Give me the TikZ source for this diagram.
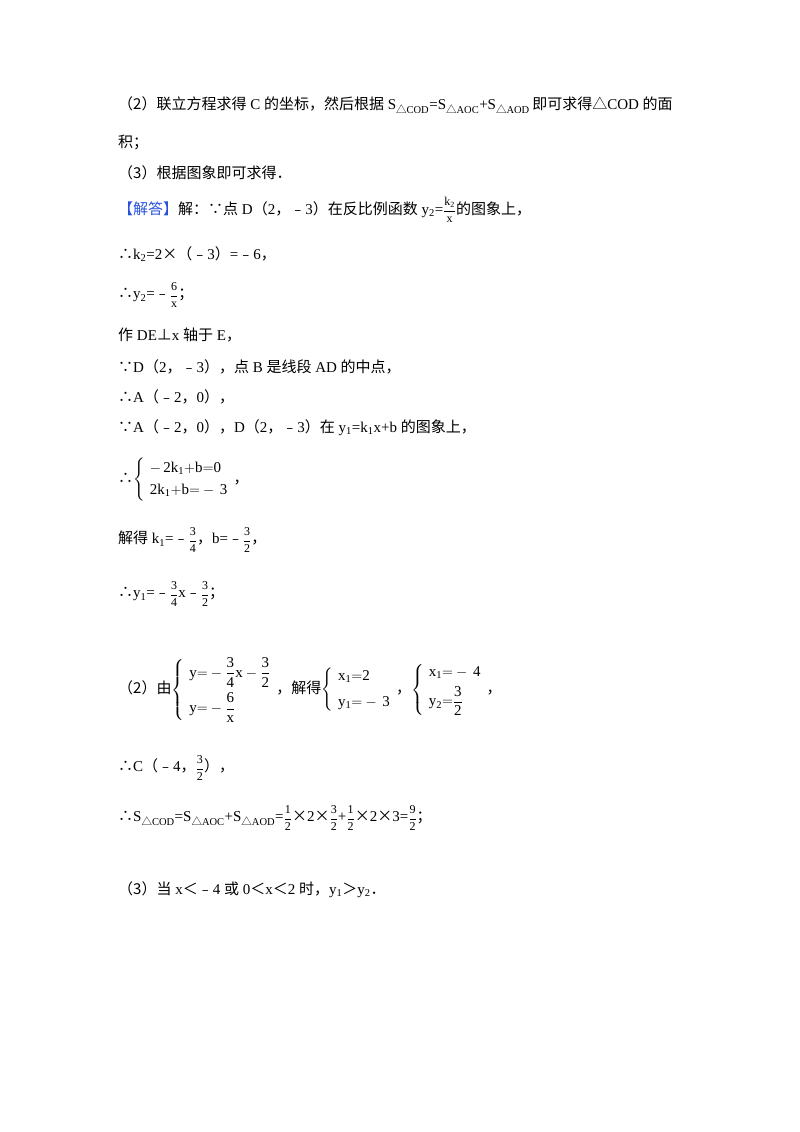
\documentclass[tikz,border=0pt]{standalone}
\usepackage{fontspec}
\usepackage{amsmath}
\setmainfont{Liberation Serif}
\newfontfamily\cjk{Noto Sans CJK SC}
\newcommand{\zh}[1]{{\cjk #1}}
\newcommand{\fr}[2]{{\fontsize{12}{14}\selectfont$\dfrac{\mathrm{#1}}{\mathrm{#2}}$}}
\definecolor{ansblue}{RGB}{40,80,220}
\begin{document}
\begin{tikzpicture}[x=1pt,y=-1pt,line/.style={anchor=west,inner sep=0pt,font=\fontsize{15}{18}\selectfont}]
\useasboundingbox (0,0) rectangle (800,1132);
\node[line] (l1) at (118,105) {\zh{（2）联立方程求得} C \zh{的坐标，然后根据} S\textsubscript{\zh{△}COD}=S\textsubscript{\zh{△}AOC}+S\textsubscript{\zh{△}AOD}\,\zh{即可求得△}COD \zh{的面}};
\node[line] (l2) at (118,142) {\zh{积；}};
\node[line] (l3) at (118,173) {\zh{（3）根据图象即可求得．}};
\node[line] (l4) at (118,210) {\zh{\textcolor{ansblue}{【解答】}解：∵点} D\zh{（}2\zh{，﹣}3\zh{）在反比例函数} y\textsubscript{2}=\fr{k_2}{x}\zh{的图象上，}};
\node[line] (l5) at (118,254) {\zh{∴}k\textsubscript{2}=2\zh{×（﹣}3\zh{）}=\zh{﹣}6\zh{，}};
\node[line] (l6) at (118,295) {\zh{∴}y\textsubscript{2}=\zh{﹣}\fr{6}{x}\zh{；}};
\node[line] (l7) at (118,335) {\zh{作} DE\zh{⊥}x \zh{轴于} E\zh{，}};
\node[line] (l8) at (118,367) {\zh{∵}D\zh{（}2\zh{，﹣}3\zh{），点} B \zh{是线段} AD \zh{的中点，}};
\node[line] (l9) at (118,397) {\zh{∴}A\zh{（﹣}2\zh{，}0\zh{），}};
\node[line] (l10) at (118,428) {\zh{∵}A\zh{（﹣}2\zh{，}0\zh{），}D\zh{（}2\zh{，﹣}3\zh{）在} y\textsubscript{1}=k\textsubscript{1}x+b \zh{的图象上，}};
\node[line] (l11) at (118,480) {\zh{∴}$\left\{\begin{array}{l}\mathrm{-\,2k_1{+}b{=}0}\\[4pt]\mathrm{2k_1{+}b{=}-\,3}\end{array}\right.$\zh{，}};
\node[line] (l12) at (118,540) {\zh{解得} k\textsubscript{1}=\zh{﹣}\fr{3}{4}\zh{，}b=\zh{﹣}\fr{3}{2}\zh{，}};
\node[line] (l13) at (118,594) {\zh{∴}y\textsubscript{1}=\zh{﹣}\fr{3}{4}x\zh{﹣}\fr{3}{2}\zh{；}};
\node[line] (l14) at (118,690) {\zh{（2）由}$\left\{\begin{array}{l}\mathrm{y{=}-\dfrac{3}{4}x-\dfrac{3}{2}}\\[10pt]\mathrm{y{=}-\dfrac{6}{x}}\end{array}\right.$\zh{，解得}$\left\{\begin{array}{l}\mathrm{x_1{=}2}\\[8pt]\mathrm{y_1{=}-\,3}\end{array}\right.$\zh{，}$\left\{\begin{array}{l}\mathrm{x_1{=}-\,4}\\[4pt]\mathrm{y_2{=}\dfrac{3}{2}}\end{array}\right.$\zh{，}};
\node[line] (l15) at (118,768) {\zh{∴}C\zh{（﹣}4\zh{，}\fr{3}{2}\zh{），}};
\node[line] (l16) at (118,818) {\zh{∴}S\textsubscript{\zh{△}COD}=S\textsubscript{\zh{△}AOC}+S\textsubscript{\zh{△}AOD}=\fr{1}{2}\zh{×}2\zh{×}\fr{3}{2}+\fr{1}{2}\zh{×}2\zh{×}3=\fr{9}{2}\zh{；}};
\node[line] (l17) at (118,890) {\zh{（3）当} x\zh{＜﹣}4 \zh{或} 0\zh{＜}x\zh{＜}2 \zh{时，}y\textsubscript{1}\zh{＞}y\textsubscript{2}\zh{．}};
\end{tikzpicture}
\end{document}
